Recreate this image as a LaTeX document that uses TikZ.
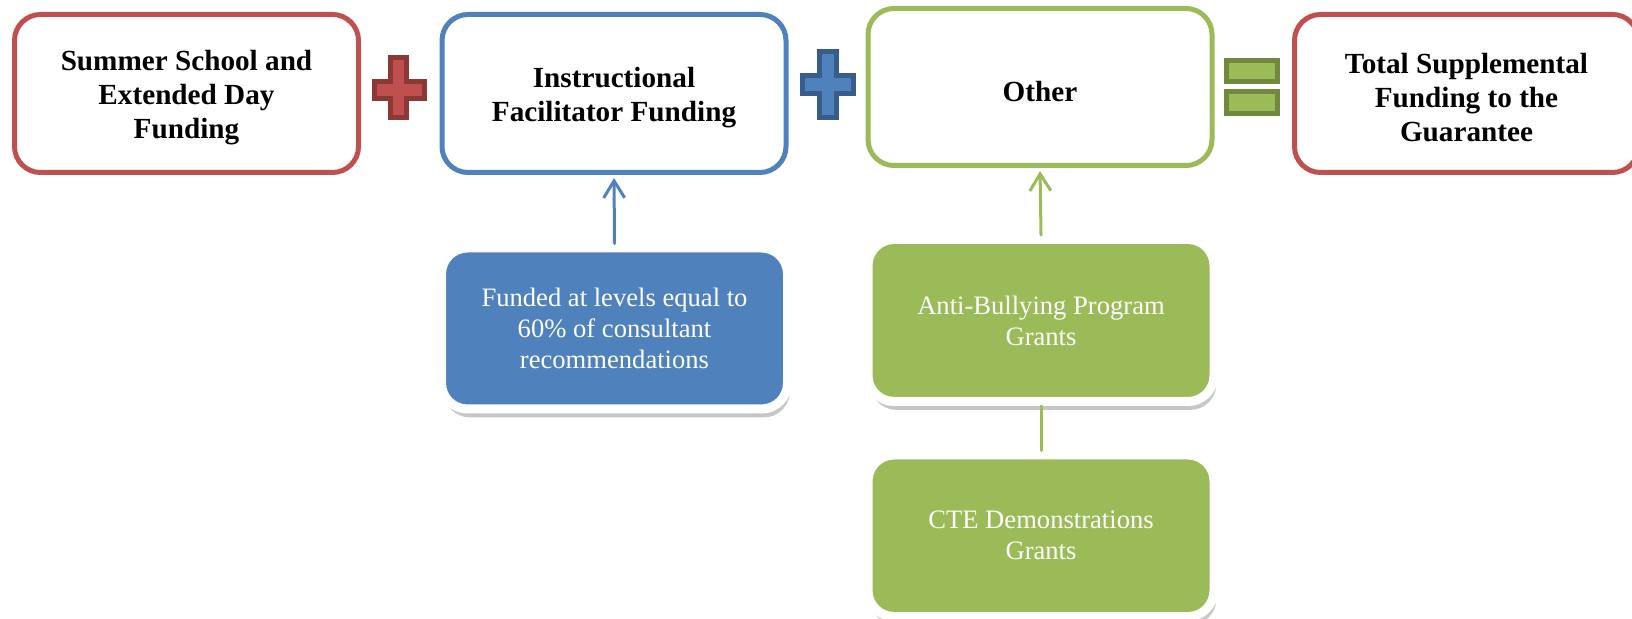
\documentclass[tikz,border=0pt]{standalone}
\usepackage{fontspec}
\setmainfont{Liberation Serif}
\usetikzlibrary{arrows.meta,shadows}

\definecolor{accred}{HTML}{C0504D}
\definecolor{accreddark}{HTML}{8C3836}
\definecolor{accblue}{HTML}{4F81BD}
\definecolor{accbluedark}{HTML}{385D8A}
\definecolor{accgreen}{HTML}{9BBB59}
\definecolor{accgreendark}{HTML}{71893F}
\newcommand\titlestrut{\rule{0pt}{14.5pt}}

\begin{document}
\begin{tikzpicture}[x=0.5pt,y=-0.5pt,line cap=round,line join=round,
  outlinebox/.style={draw=#1,line width=2.5pt,fill=white,rounded corners=13pt,
    minimum width=172pt,minimum height=79pt,align=center,inner sep=2pt,
    font=\fontsize{14.6}{17}\selectfont\bfseries},
  filledbox/.style={draw=white,line width=4.5pt,fill=#1,rounded corners=13pt,
    minimum width=173pt,minimum height=80.5pt,align=center,text=white,inner sep=2pt,
    font=\fontsize{13.3}{15.5}\selectfont,
    drop shadow={shadow xshift=1.2pt,shadow yshift=-4.2pt,fill=black,opacity=.22}},
  sign/.style={fill=#1,draw=#1dark,line width=2.5pt,line join=miter},
  link/.style={draw=#1,line width=1.5pt}]
  \clip (0,0) rectangle (1632,619);

  \node[outlinebox=accred] (summer) at (186.5,93.5) {\titlestrut Summer School and\\Extended Day\\Funding};
  \node[outlinebox=accblue] (instr) at (614,93.5) {\titlestrut Instructional\\Facilitator Funding};
  \node[outlinebox=accgreen,minimum height=78.5pt] (other) at (1040,87) {\titlestrut Other};
  \node[outlinebox=accred] (total) at (1466.5,93.5) {\titlestrut Total Supplemental\\Funding to the\\Guarantee};

  \draw[sign=accred] (390.5,57.5) -- (406.5,57.5) -- (406.5,81.5) -- (424.5,81.5)
    -- (424.5,98.5) -- (406.5,98.5) -- (406.5,117.5) -- (390.5,117.5)
    -- (390.5,98.5) -- (374.5,98.5) -- (374.5,81.5) -- (390.5,81.5) -- cycle;
  \draw[sign=accblue] (819.5,51.5) -- (836.5,51.5) -- (836.5,75.5) -- (853.5,75.5)
    -- (853.5,93.5) -- (836.5,93.5) -- (836.5,117.5) -- (819.5,117.5)
    -- (819.5,93.5) -- (802.5,93.5) -- (802.5,75.5) -- (819.5,75.5) -- cycle;
  \draw[sign=accgreen] (1226.5,60.5) rectangle (1277.5,81.5);
  \draw[sign=accgreen] (1226.5,91.5) rectangle (1277.5,113.5);

  \node[filledbox=accblue] (levels) at (614.5,328.5) {Funded at levels equal to\\60\% of consultant\\recommendations};
  \node[filledbox=accgreen,minimum height=81pt] (bully) at (1041,320.5) {Anti-Bullying Program\\Grants};
  \node[filledbox=accgreen,minimum height=80.75pt] (cte) at (1041,535.75) {CTE Demonstrations\\Grants};

  \draw[link=accblue,-{Straight Barb[length=8.5pt,width=10.5pt]},shorten >=1.5pt] (levels.north) -- (instr.south);
  \draw[link=accgreen,-{Straight Barb[length=8.5pt,width=10.5pt]},shorten >=1.5pt] (bully.north) -- (other.south);
  \draw[link=accgreen] (cte.north) -- (bully.south);
\end{tikzpicture}
\end{document}
